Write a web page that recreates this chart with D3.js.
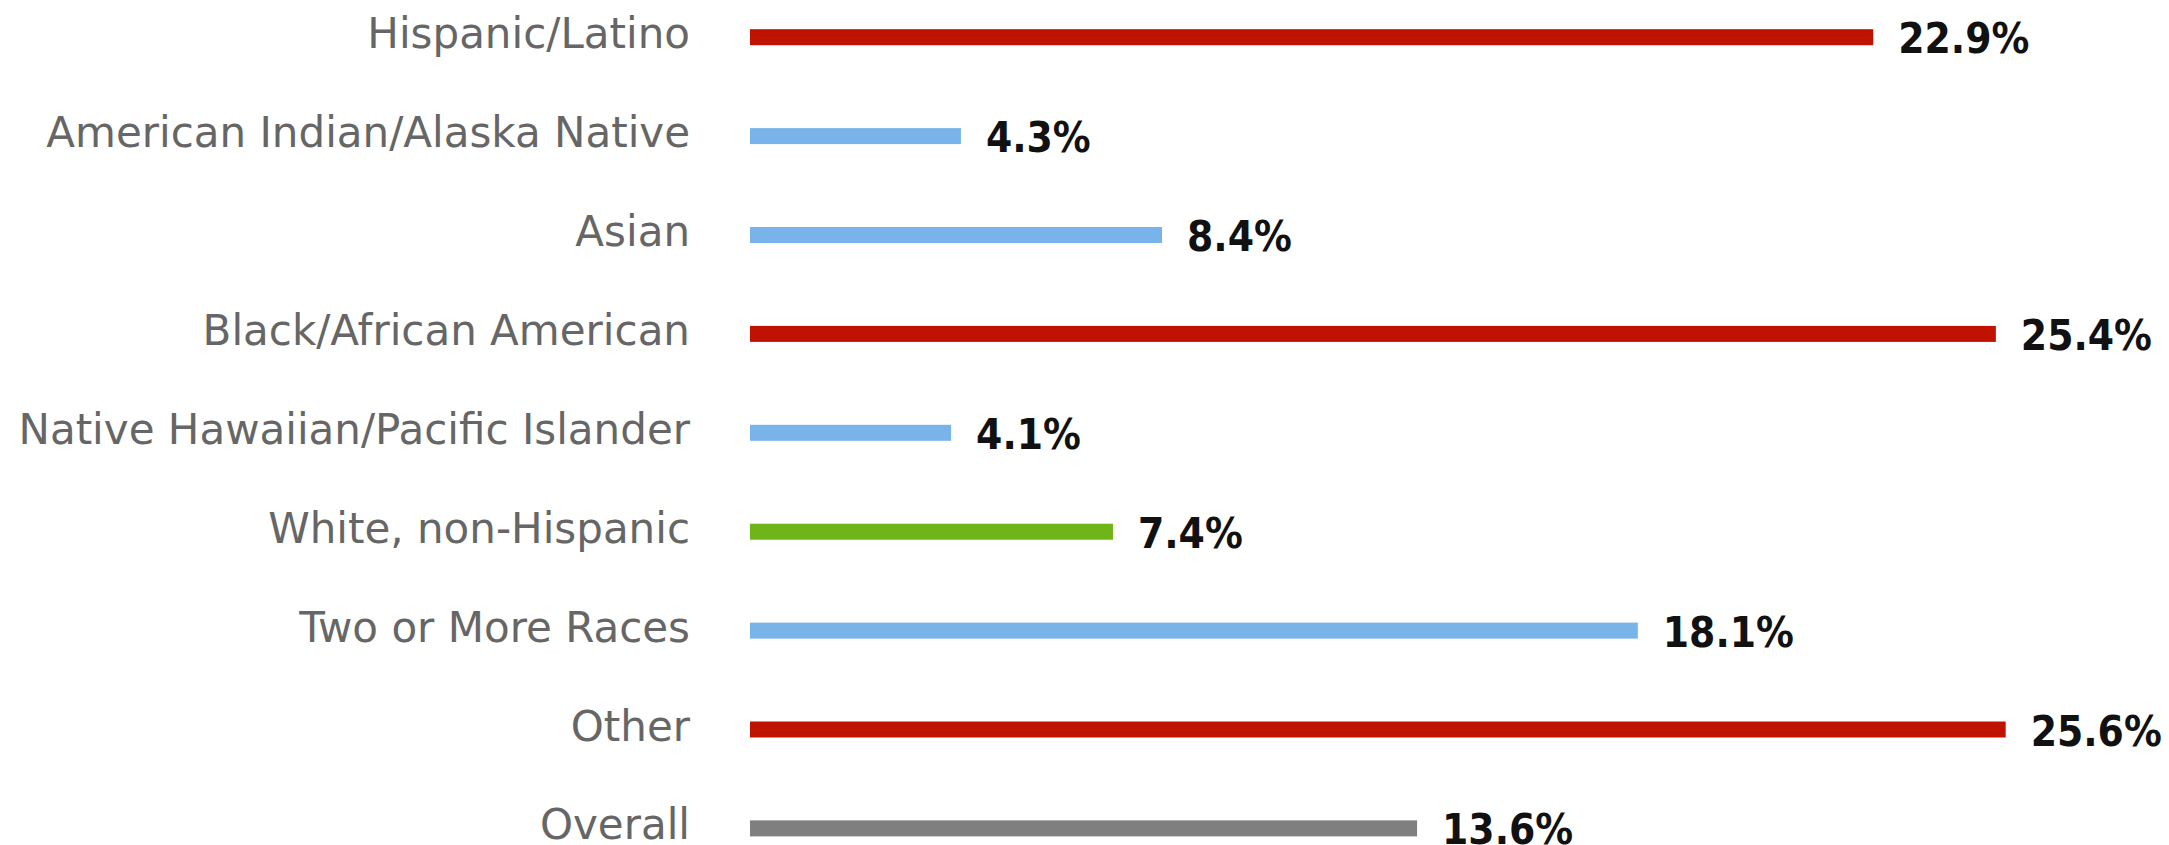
<!DOCTYPE html>
<html>
<head>
<meta charset="utf-8">
<script src="https://cdn.jsdelivr.net/npm/d3@7"></script>
<style>
  html, body { margin: 0; padding: 0; background: #ffffff; overflow: hidden; }
  svg { display: block; }
</style>
</head>
<body>
<svg id="chart" width="2169" height="845"></svg>
<script>
// Rates by race/ethnicity group (percent)
const categories = [
  "Hispanic/Latino",
  "American Indian/Alaska Native",
  "Asian",
  "Black/African American",
  "Native Hawaiian/Pacific Islander",
  "White, non-Hispanic",
  "Two or More Races",
  "Other",
  "Overall"
];
const values = [22.9, 4.3, 8.4, 25.4, 4.1, 7.4, 18.1, 25.6, 13.6];
const groups = ["high", "low", "low", "high", "low", "reference", "low", "high", "overall"];

const colorByGroup = {
  high: "#bf1200",
  low: "#78b3e9",
  reference: "#6fb517",
  overall: "#7f7f7f"
};

const width = 2169, height = 845;
const svg = d3.select("#chart");

const x = d3.scaleLinear().domain([0, 30]).range([750, 750 + 30 * 49.05]);
const y = d3.scalePoint().domain(categories).range([37.2, 828.4]);
const barH = 16;

const rows = categories.map((c, i) => ({ cat: c, value: values[i], group: groups[i] }));

// Bars
svg.append("g")
  .selectAll("rect")
  .data(rows)
  .join("rect")
  .attr("x", x(0))
  .attr("y", d => y(d.cat) - barH / 2)
  .attr("width", d => x(d.value) - x(0))
  .attr("height", barH)
  .attr("fill", d => colorByGroup[d.group]);

// Category labels
svg.append("g")
  .selectAll("text")
  .data(rows)
  .join("text")
  .attr("x", 690)
  .attr("y", d => y(d.cat) + 11)
  .attr("text-anchor", "end")
  .attr("font-family", "DejaVu Sans")
  .attr("font-size", 42)
  .attr("fill", "#666666")
  .text(d => d.cat);

// Value labels
svg.append("g")
  .selectAll("text")
  .data(rows)
  .join("text")
  .attr("x", d => x(d.value) + 25)
  .attr("y", d => y(d.cat) + 16)
  .attr("font-family", "DejaVu Sans Condensed, DejaVu Sans")
  .attr("font-weight", "bold")
  .attr("font-size", 42)
  .attr("fill", "#111111")
  .text(d => d.value.toFixed(1) + "%");
</script>
</body>
</html>
